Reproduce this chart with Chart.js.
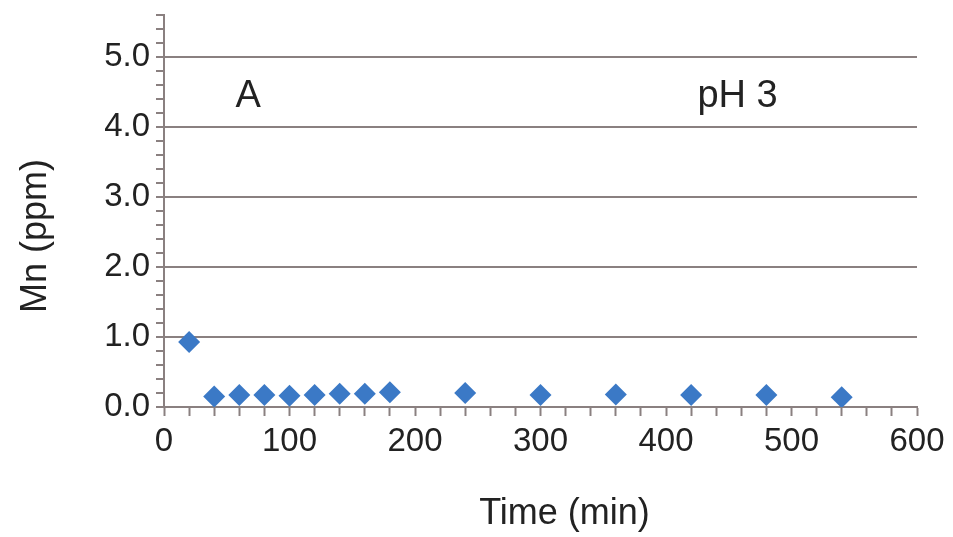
<!DOCTYPE html>
<html>
<head>
<meta charset="utf-8">
<script src="https://cdn.jsdelivr.net/npm/chart.js@4"></script>
<style>
  html, body { margin: 0; padding: 0; background: #fff; }
  #wrap { width: 953px; height: 537px; }
</style>
</head>
<body>
<div id="wrap"><canvas id="myChart" width="953" height="537"></canvas></div>
<script>
// values
var timeMin = [20, 40, 60, 80, 100, 120, 140, 160, 180, 240, 300, 360, 420, 480, 540];
var mnPpm = [0.93, 0.15, 0.17, 0.17, 0.16, 0.17, 0.19, 0.19, 0.21, 0.2, 0.17, 0.18, 0.17, 0.17, 0.14];
var panelLabel = "A";
var phLabel = "pH 3";
var xTitle = "Time (min)";
var yTitle = "Mn (ppm)";

var axisCol = "#8a8080";
var textCol = "#222";
var fontName = "'Liberation Sans', Arial, sans-serif";

function isMajor(v, step) {
    return Math.abs(v / step - Math.round(v / step)) < 1e-6;
}

// notes and axis titles, placed off the scales
var notes = {
    id: "notes",
    afterDraw: function(c) {
        var x = c.scales.x, y = c.scales.y, ctx = c.ctx;
        ctx.save();
        ctx.fillStyle = textCol;
        ctx.textBaseline = "middle";
        ctx.textAlign = "left";
        ctx.font = "38px " + fontName;
        ctx.fillText(panelLabel, x.getPixelForValue(57), y.getPixelForValue(4.43));
        ctx.fillText(phLabel, x.getPixelForValue(425), y.getPixelForValue(4.43));

        ctx.font = "36px " + fontName;
        ctx.textAlign = "center";
        ctx.fillText(xTitle, (x.left + x.right) / 2 + 24, 514);
        ctx.translate(36, 236);
        ctx.rotate(-Math.PI / 2);
        ctx.fillText(yTitle, 0, 0);
        ctx.restore();
    }
};

var pts = timeMin.map(function(t, i) { return { x: t, y: mnPpm[i] }; });

new Chart(document.getElementById("myChart").getContext("2d"), {
    type: "scatter",
    data: {
        datasets: [{
            data: pts,
            pointStyle: "rectRot",
            pointRadius: 11,
            pointHoverRadius: 11,
            backgroundColor: "#3b79c6",
            borderColor: "#3b79c6",
            borderWidth: 0
        }]
    },
    options: {
        responsive: false,
        animation: false,
        layout: { padding: { top: 15, right: 36, left: 0, bottom: 0 } },
        plugins: { legend: { display: false }, tooltip: { enabled: false } },
        scales: {
            x: {
                type: "linear",
                min: 0,
                max: 600,
                ticks: {
                    stepSize: 20,
                    autoSkip: false,
                    maxRotation: 0,
                    color: textCol,
                    font: { family: fontName, size: 33 },
                    padding: 6,
                    callback: function(v) { return isMajor(v, 100) ? v : ""; }
                },
                grid: {
                    drawOnChartArea: false,
                    tickLength: 9,
                    tickColor: axisCol,
                    tickWidth: 2
                },
                border: { color: axisCol, width: 2 },
                afterFit: function(s) { s.height = 130; }
            },
            y: {
                min: 0,
                max: 5.6,
                ticks: {
                    stepSize: 0.2,
                    autoSkip: false,
                    color: textCol,
                    font: { family: fontName, size: 33 },
                    padding: 6,
                    callback: function(v) { return isMajor(v, 1) && v <= 5 ? v.toFixed(1) : ""; }
                },
                grid: {
                    color: function(ctx) {
                        var v = ctx.tick ? ctx.tick.value : 0;
                        return isMajor(v, 1) && v > 0 && v <= 5 ? axisCol : "rgba(0,0,0,0)";
                    },
                    lineWidth: 2,
                    tickLength: 8,
                    tickColor: axisCol,
                    tickWidth: 2
                },
                border: { color: axisCol, width: 2 },
                afterFit: function(s) {
                    s.width = 164;
                    s.paddingTop = 0;
                    s.paddingBottom = 0;
                }
            }
        }
    },
    plugins: [notes]
});
</script>
</body>
</html>
